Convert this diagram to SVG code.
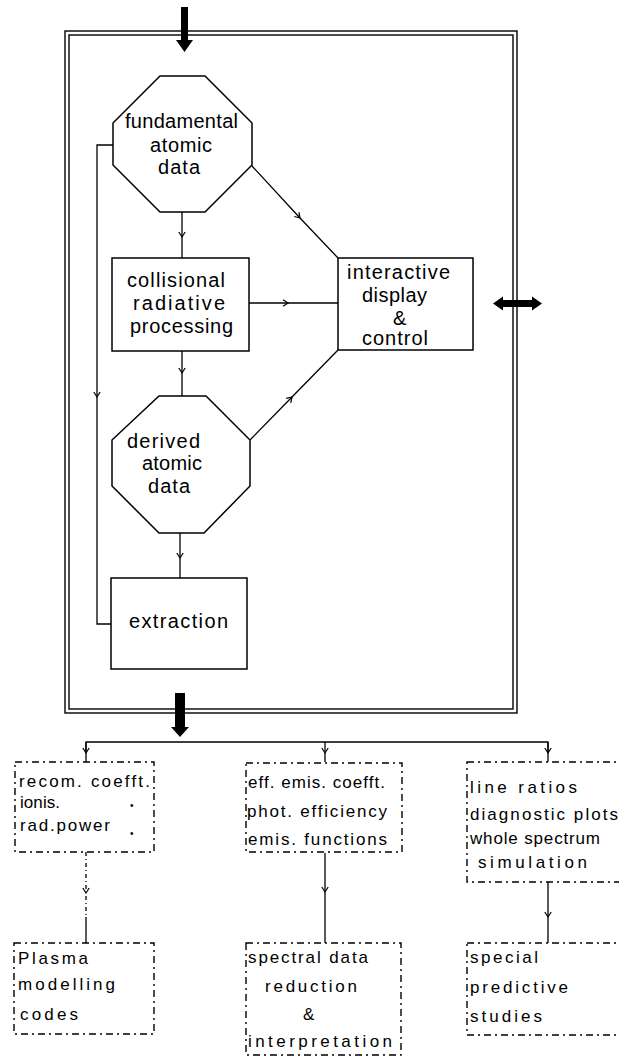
<svg xmlns="http://www.w3.org/2000/svg" width="619" height="1060" viewBox="0 0 619 1060">
  <style>
    .ln { stroke: #000; stroke-width: 1.3; fill: none; }
    .frame { stroke: #000; stroke-width: 1.4; fill: none; }
    .node { fill: #fff; stroke: #000; stroke-width: 1.5; }
    .dnode { fill: #fff; stroke: #000; stroke-width: 1.4; stroke-dasharray: 7 4 2 4; }
    .solid { fill: #000; stroke: none; }
    .dot { stroke-dasharray: 4 3 1 3; }
    text { font-family: "Liberation Sans", Arial, sans-serif; fill: #000; }
    .t { font-size: 20px; }
    .s { font-size: 17px; }
    .ditto { font-size: 10px; }
  </style>
  <defs>
    <marker id="tick" markerUnits="userSpaceOnUse" markerWidth="12" markerHeight="12" refX="0" refY="0" viewBox="-6 -6 12 12" orient="auto" overflow="visible">
      <path d="M-5,-3.2 L0,0 L-5,3.2" fill="none" stroke="#000" stroke-width="1.2"/>
    </marker>
  </defs>

  <rect width="619" height="1060" fill="#fff"/>

  <!-- double boundary of the processing system -->
  <g id="system-frame">
    <rect class="frame" x="65" y="31" width="452" height="682"/>
    <rect class="frame" x="69" y="35" width="444" height="674"/>
  </g>

  <g id="connectors">
    <!-- heavy input / output / exchange arrows -->
    <path class="solid" d="M181,7 L188,7 L188,40 L193,40 L184.5,52 L176,40 L181,40 Z"/>
    <path class="solid" d="M175,693 L185,693 L185,727 L189,727 L180,737 L171,727 L175,727 Z"/>
    <path class="solid" d="M493,303.5 L503,296.5 L503,300 L532,300 L532,296.5 L542,303.5 L532,310.5 L532,307 L503,307 L503,310.5 Z"/>

    <!-- inside the system -->
    <path class="ln" d="M182,212 L182,237 L182,258" marker-mid="url(#tick)"/>
    <path class="ln" d="M252,166 L300,218 L338,258" marker-mid="url(#tick)"/>
    <path class="ln" d="M249,303 L288,303 L338,303" marker-mid="url(#tick)"/>
    <path class="ln" d="M182,351 L182,373 L182,396" marker-mid="url(#tick)"/>
    <path class="ln" d="M250,440 L292,397 L338,350" marker-mid="url(#tick)"/>
    <path class="ln" d="M180,533 L180,558 L180,578" marker-mid="url(#tick)"/>
    <path class="ln" d="M113,145 L97,145 L97,397" marker-end="url(#tick)"/>
    <path class="ln" d="M97,397 L97,624 L111,624"/>

    <!-- distribution of results -->
    <path class="ln" d="M86,762 L86,742 L548,742 L548,762"/>
    <path class="ln" d="M86,742 L86,753" marker-end="url(#tick)"/>
    <path class="ln" d="M325,742 L325,753 L325,762" marker-mid="url(#tick)"/>
    <path class="ln" d="M548,742 L548,753" marker-end="url(#tick)"/>

    <path class="ln dot" d="M86,852 L86,893 L86,917" marker-mid="url(#tick)"/>
    <path class="ln" d="M86,917 L86,943"/>
    <path class="ln" d="M325,853 L325,892 L325,943" marker-mid="url(#tick)"/>
    <path class="ln" d="M548,882 L548,917 L548,943" marker-mid="url(#tick)"/>
  </g>

  <g id="fundamental-atomic-data">
    <polygon class="node" points="160,76 205,76 252,123 252,165 205,212 160,212 113,165 113,123"/>
    <text class="t" x="125" y="128" textLength="113" lengthAdjust="spacing">fundamental</text>
    <text class="t" x="150" y="152" textLength="62" lengthAdjust="spacing">atomic</text>
    <text class="t" x="158" y="174" textLength="42" lengthAdjust="spacing">data</text>
  </g>

  <g id="collisional-radiative-processing">
    <rect class="node" x="112" y="258" width="137" height="93"/>
    <text class="t" x="127" y="287" textLength="98" lengthAdjust="spacing">collisional</text>
    <text class="t" x="133" y="310" textLength="92" lengthAdjust="spacing">radiative</text>
    <text class="t" x="130" y="333" textLength="103" lengthAdjust="spacing">processing</text>
  </g>

  <g id="interactive-display">
    <rect class="node" x="338" y="258" width="135" height="92"/>
    <text class="t" x="347" y="279" textLength="103" lengthAdjust="spacing">interactive</text>
    <text class="t" x="362" y="302" textLength="65" lengthAdjust="spacing">display</text>
    <text class="t" x="393" y="325" textLength="12" lengthAdjust="spacing">&amp;</text>
    <text class="t" x="362" y="345" textLength="66" lengthAdjust="spacing">control</text>
  </g>

  <g id="derived-atomic-data">
    <polygon class="node" points="159,396 206,396 250,440 250,486 204,533 159,533 112,486 112,440"/>
    <text class="t" x="127" y="448" textLength="73" lengthAdjust="spacing">derived</text>
    <text class="t" x="142" y="470" textLength="60" lengthAdjust="spacing">atomic</text>
    <text class="t" x="148" y="493" textLength="42" lengthAdjust="spacing">data</text>
  </g>

  <g id="extraction">
    <rect class="node" x="111" y="578" width="136" height="91"/>
    <text class="t" x="129" y="628" textLength="99" lengthAdjust="spacing">extraction</text>
  </g>

  <g id="coefficients">
    <rect class="dnode" x="15" y="762" width="139" height="90"/>
    <text class="s" x="19" y="787" textLength="131" lengthAdjust="spacing">recom. coefft.</text>
    <text class="s" x="20" y="808" textLength="40" lengthAdjust="spacing">ionis.</text>
    <text class="ditto" x="130" y="809">•</text>
    <text class="s" x="20" y="831" textLength="90" lengthAdjust="spacing">rad.power</text>
    <text class="ditto" x="130" y="837">•</text>
  </g>

  <g id="emission-functions">
    <rect class="dnode" x="246" y="763" width="156" height="89"/>
    <text class="s" x="248" y="788" textLength="137" lengthAdjust="spacing">eff. emis. coefft.</text>
    <text class="s" x="247" y="817" textLength="140" lengthAdjust="spacing">phot. efficiency</text>
    <text class="s" x="248" y="845" textLength="139" lengthAdjust="spacing">emis. functions</text>
  </g>

  <g id="spectrum-simulation">
    <rect class="dnode" x="467" y="762" width="170" height="120"/>
    <text class="s" x="470" y="793" textLength="107" lengthAdjust="spacing">line ratios</text>
    <text class="s" x="470" y="820" textLength="148" lengthAdjust="spacing">diagnostic plots</text>
    <text class="s" x="470" y="844" textLength="130" lengthAdjust="spacing">whole spectrum</text>
    <text class="s" x="478" y="868" textLength="109" lengthAdjust="spacing">simulation</text>
  </g>

  <g id="plasma-modelling-codes">
    <rect class="dnode" x="14" y="943" width="140" height="91"/>
    <text class="s" x="18" y="964" textLength="70" lengthAdjust="spacing">Plasma</text>
    <text class="s" x="18" y="990" textLength="97" lengthAdjust="spacing">modelling</text>
    <text class="s" x="20" y="1020" textLength="58" lengthAdjust="spacing">codes</text>
  </g>

  <g id="spectral-data-reduction">
    <rect class="dnode" x="246" y="943" width="155" height="112"/>
    <text class="s" x="248" y="963" textLength="120" lengthAdjust="spacing">spectral data</text>
    <text class="s" x="265" y="992" textLength="92" lengthAdjust="spacing">reduction</text>
    <text class="s" x="303" y="1020" textLength="12" lengthAdjust="spacing">&amp;</text>
    <text class="s" x="248" y="1047" textLength="144" lengthAdjust="spacing">interpretation</text>
  </g>

  <g id="special-predictive-studies">
    <rect class="dnode" x="467" y="943" width="170" height="92"/>
    <text class="s" x="470" y="963" textLength="68" lengthAdjust="spacing">special</text>
    <text class="s" x="470" y="993" textLength="98" lengthAdjust="spacing">predictive</text>
    <text class="s" x="470" y="1022" textLength="72" lengthAdjust="spacing">studies</text>
  </g>
</svg>
